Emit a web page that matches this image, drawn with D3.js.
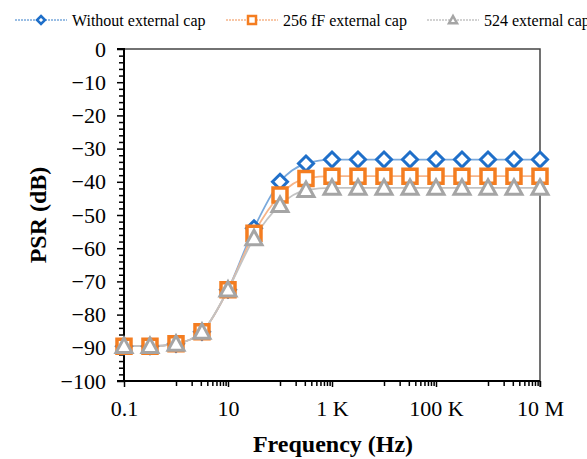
<!DOCTYPE html>
<html><head><meta charset="utf-8">
<script src="https://cdn.jsdelivr.net/npm/d3@7"></script>
<style>
html,body{margin:0;padding:0;background:#fff;}
svg{display:block;font-family:"Liberation Serif","Times New Roman",serif;}
</style></head>
<body>
<script>
// ---- data ----
const freqs = [0.1, 0.316, 1, 3.16, 10, 31.6, 100, 316, 1e3, 3.16e3, 1e4, 3.16e4, 1e5, 3.16e5, 1e6, 3.16e6, 1e7];
const seriesNames = ["Without external cap", "256 fF external cap", "524 external cap"];
const psrNoCap  = [-89.5, -89.5, -88.8, -85.2, -72.5, -54, -40, -34.5, -33.3, -33.3, -33.3, -33.3, -33.3, -33.3, -33.3, -33.3, -33.3];
const psr256    = [-89.5, -89.5, -88.8, -85.2, -72.5, -55.5, -44, -39, -38.3, -38.3, -38.3, -38.3, -38.3, -38.3, -38.3, -38.3, -38.3];
const psr524    = [-89.5, -89.5, -88.8, -85.2, -72.5, -57, -47, -42.5, -41.8, -41.8, -41.8, -41.8, -41.8, -41.8, -41.8, -41.8, -41.8];
const xTickValues = [0.1, 10, 1e3, 1e5, 1e7];
const xTickLabels = ["0.1", "10", "1 K", "100 K", "10 M"];
const yTickValues = [0, -10, -20, -30, -40, -50, -60, -70, -80, -90, -100];
const yTickLabels = ["0", "\u221210", "\u221220", "\u221230", "\u221240", "\u221250", "\u221260", "\u221270", "\u221280", "\u221290", "\u2212100"];

const W = 587, H = 459;
const FONT = "Liberation Serif";
const svg = d3.select("body").append("svg").attr("width", W).attr("height", H);

const x = d3.scaleLog().domain([0.1, 1e7]).range([124, 540]);
const y = d3.scaleLinear().domain([-100, 0]).range([381, 49]);

// frame (top & right)
svg.append("path")
  .attr("d", `M${x(0.1)},${y(0)}H${x(1e7)}V${y(-100)+6}`)
  .attr("fill", "none").attr("stroke", "#444").attr("stroke-width", 1.5);

// y axis
const yMinor = d3.range(-100, 1, 2).filter(v => v % 10 !== 0);
const yAxisMinor = d3.axisLeft(y).tickValues(yMinor).tickSize(5).tickFormat("");
svg.append("g").attr("transform", `translate(${x(0.1)},0)`).call(yAxisMinor)
  .call(g => g.select(".domain").remove())
  .call(g => g.selectAll("line").attr("stroke", "#000").attr("stroke-width", 1.5));
const yAxis = d3.axisLeft(y).tickValues(yTickValues).tickSize(7).tickPadding(11)
  .tickFormat((d, i) => yTickLabels[i]);
svg.append("g").attr("transform", `translate(${x(0.1)},0)`).call(yAxis)
  .call(g => g.select(".domain").attr("stroke", "#000").attr("stroke-width", 2).attr("d", `M-7,${y(0)}H0V${y(-100)}H-7`))
  .call(g => g.selectAll("line").attr("stroke", "#000").attr("stroke-width", 1.5))
  .call(g => g.selectAll("text").attr("font-family", FONT).attr("font-size", 22).attr("fill", "#000"));

// x axis
const xMinor = [];
xTickValues.slice(0, -1).forEach(m => { for (let k = 1; k <= 9; k++) xMinor.push(m * 10 * k); });
const xAxisMinor = d3.axisBottom(x).tickValues(xMinor).tickSize(5).tickFormat("");
svg.append("g").attr("transform", `translate(0,${y(-100)})`).call(xAxisMinor)
  .call(g => g.select(".domain").remove())
  .call(g => g.selectAll("line").attr("stroke", "#000").attr("stroke-width", 1.5));
const xAxis = d3.axisBottom(x).tickValues(xTickValues).tickSize(6).tickPadding(13)
  .tickFormat((d, i) => xTickLabels[i]);
svg.append("g").attr("transform", `translate(0,${y(-100)})`).call(xAxis)
  .call(g => g.select(".domain").attr("stroke", "#000").attr("stroke-width", 2).attr("d", `M${x(0.1)},0H${x(1e7)}`))
  .call(g => g.selectAll("line").attr("stroke", "#000").attr("stroke-width", 1.5))
  .call(g => g.selectAll("text").attr("font-family", FONT).attr("font-size", 22).attr("fill", "#000"));

// axis titles
svg.append("text").attr("x", 333).attr("y", 452).attr("text-anchor", "middle")
  .attr("font-weight", "bold").attr("font-size", 24).text("Frequency (Hz)");
svg.append("text").attr("transform", `translate(46,${(y(0)+y(-100))/2}) rotate(-90)`)
  .attr("text-anchor", "middle").attr("font-weight", "bold").attr("font-size", 24).text("PSR (dB)");

// series
const series = [
  {name: seriesNames[0], values: psrNoCap, line: "#7aa9dc", mark: "#1f6fc9", shape: "diamond"},
  {name: seriesNames[1], values: psr256, line: "#f6b58a", mark: "#f47d20", shape: "square"},
  {name: seriesNames[2], values: psr524, line: "#c3c3c3", mark: "#a5a5a5", shape: "triangle"}
];
function shapePath(shape, s) {
  if (shape === "diamond") return `M0,${-s}L${s},0L0,${s}L${-s},0Z`;
  if (shape === "square") return `M${-s},${-s}H${s}V${s}H${-s}Z`;
  return `M0,${-s}L${s},${s*0.8}L${-s},${s*0.8}Z`;
}
const line = d3.line().x((d, i) => x(freqs[i])).y(d => y(d)).curve(d3.curveMonotoneX);
series.forEach(s => {
  svg.append("path").datum(s.values).attr("d", line)
    .attr("fill", "none").attr("stroke", s.line).attr("stroke-width", 1.8);
});
const sizes = {diamond: 7.5, square: 7, triangle: 8};
series.forEach(s => {
  svg.append("g").selectAll("path").data(s.values).join("path")
    .attr("transform", (d, i) => `translate(${x(freqs[i])},${y(d)})`)
    .attr("d", shapePath(s.shape, sizes[s.shape]))
    .attr("fill", "#fff").attr("stroke", s.mark)
    .attr("stroke-width", s.shape === "square" ? 3.5 : 3)
    .attr("stroke-linejoin", "miter");
});

// legend
const legX = [15, 226, 427];
const leg = svg.append("g");
series.forEach((s, i) => {
  const g = leg.append("g").attr("transform", `translate(${legX[i]},20)`);
  g.append("line").attr("x1", 0).attr("x2", 52).attr("y1", 0).attr("y2", 0)
    .attr("stroke", s.line).attr("stroke-width", 1.6).attr("stroke-dasharray", "2,1");
  g.append("path").attr("transform", "translate(26,0)").attr("d", shapePath(s.shape, 4))
    .attr("fill", "#fff").attr("stroke", s.mark).attr("stroke-width", 2.5);
  g.append("text").attr("x", 57).attr("y", 5.5).attr("font-size", 16).attr("fill", "#000").text(s.name);
});
</script>
</body></html>
